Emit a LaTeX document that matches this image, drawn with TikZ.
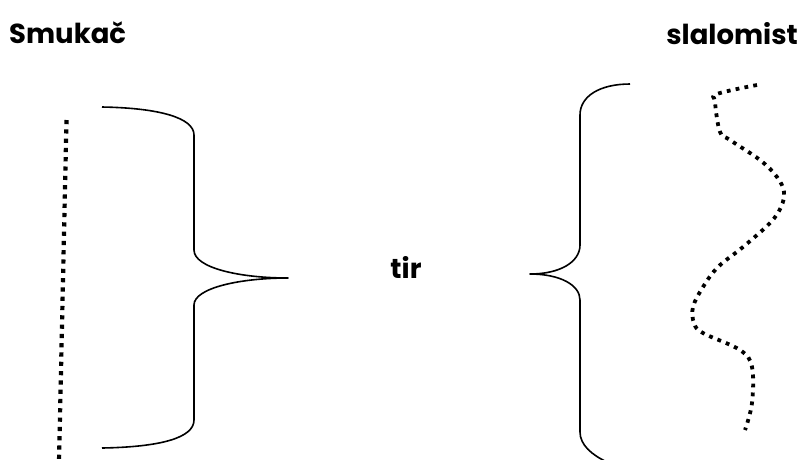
\documentclass[tikz,border=0pt]{standalone}
\usepackage{fontspec}
\setmainfont{Poppins}
\begin{document}
\begin{tikzpicture}[x=1pt,y=-1pt,
  lbl/.style={font=\bfseries\fontsize{27.5}{32}\selectfont, inner sep=0pt},
  brace/.style={line width=1.6pt, line join=round},
  dots/.style={line width=4.2pt, dash pattern=on 4.2pt off 5.1pt},
  wdots/.style={line width=3.8pt, dash pattern=on 3.8pt off 5.2pt}]
\useasboundingbox (0,0) rectangle (806,459);
\node[lbl, anchor=west] (smukac) at (9,33) {Smukač};
\node[lbl, anchor=east] (slalomist) at (798,34) {slalomist};
\node[lbl] (tir) at (406,267) {tir};
\draw[brace] (102,107) .. controls (160,108) and (194,118) .. (194,135) -- (194,250)
  .. controls (194,268) and (240,278) .. (288,278)
  .. controls (240,278) and (194,288) .. (194,305) -- (194,420)
  .. controls (194,438) and (160,447) .. (102,448);
\draw[brace] (630,84) .. controls (600,84) and (580,96) .. (580,115) -- (580,245)
  .. controls (580,262) and (560,274) .. (530,274)
  .. controls (560,274) and (580,285) .. (580,300) -- (580,432)
  .. controls (580,445) and (592,455) .. (607,462);
\draw[dots] (66.5,120) -- (59,462);
\draw[wdots] plot[smooth, tension=0.6] coordinates {(757,85) (717,94) (715,102) (720,132) (730,140) (760,160) (777,177) (784,192) (781,207) (770,223) (743,247) (718,267) (703,287) (693,307) (694,323) (703,333) (740,350) (752,367) (752,403) (745,430)};
\end{tikzpicture}
\end{document}
